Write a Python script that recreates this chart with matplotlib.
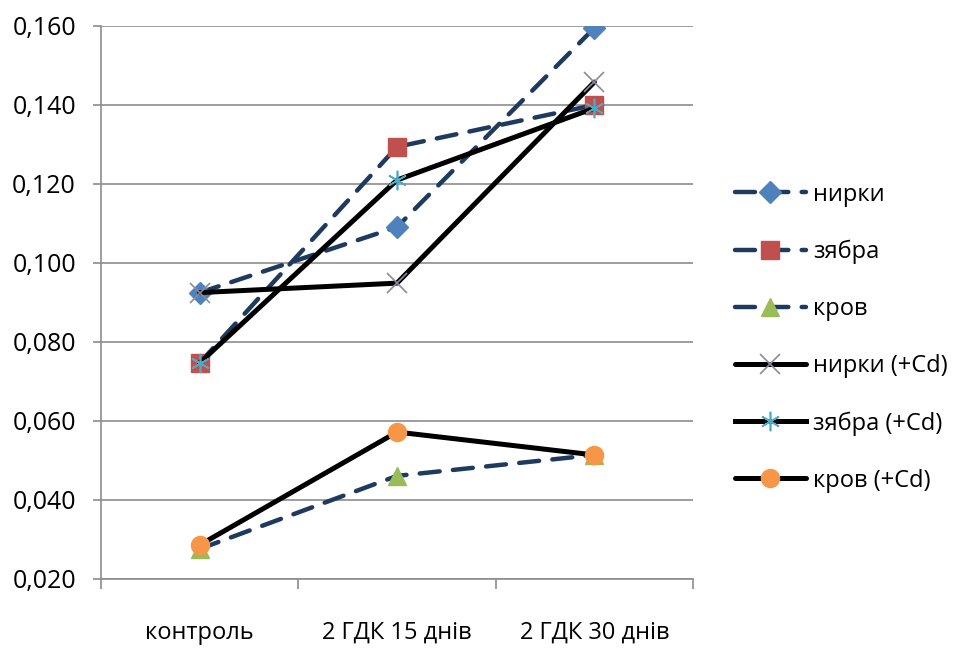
import numpy as np
import matplotlib.pyplot as plt
from matplotlib.lines import Line2D

plt.rcParams['font.family'] = ['Open Sans', 'DejaVu Sans']

# Data
categories = ["контроль", "2 ГДК 15 днів", "2 ГДК 30 днів"]
nyrky = [0.0925, 0.1091, 0.1595]
zyabra = [0.0747, 0.1294, 0.1400]
krov = [0.0276, 0.0461, 0.0514]
nyrky_cd = [0.0925, 0.0949, 0.1458]
zyabra_cd = [0.0747, 0.1210, 0.1392]
krov_cd = [0.0286, 0.0572, 0.0514]

x = np.arange(len(categories))

fig = plt.figure(figsize=(9.58, 6.48), dpi=100)
ax = fig.add_axes([0.1054, 0.1065, 0.618, 0.8534])

navy = "#1F3A5F"
dash = dict(color=navy, lw=3.2, dashes=(4.5, 3.0), dash_capstyle="round")
solid = dict(color="black", lw=3.6, solid_capstyle="round")

ax.plot(x, nyrky, marker="D", ms=11, mfc="#4F81BD", mec="#4F81BD", label="нирки", **dash)
ax.plot(x, zyabra, marker="s", ms=13, mfc="#C0504D", mec="#C0504D", label="зябра", **dash)
ax.plot(x, krov, marker="^", ms=13, mfc="#9BBB59", mec="#9BBB59", label="кров", **dash)
ax.plot(x, nyrky_cd, marker="x", ms=14, mew=1.2, mec="#8A8AA0", label="нирки (+Cd)", **solid)
ax.plot(x, zyabra_cd, label="зябра (+Cd)", **solid)
ax.plot(x, zyabra_cd, ls="none", marker=(6, 2, 0), ms=14, mew=1.2, mec="#4BACC6")
ax.plot(x, krov_cd, marker="o", ms=13, mfc="#F79646", mec="#F79646", label="кров (+Cd)", **solid)

yticks = np.arange(0.020, 0.1601, 0.020)
ax.set_xlim(-0.5, 2.5)
ax.set_ylim(0.020, 0.160)
ax.set_yticks(yticks)
ax.set_yticklabels([f"{v:.3f}".replace(".", ",") for v in yticks])
ax.yaxis.grid(True, color="#8C8C8C", lw=1.2)
ax.set_axisbelow(True)

ax.set_xticks(x)
ax.set_xticklabels(categories)
ax.set_xticks([-0.5, 0.5, 1.5, 2.5], minor=True)
ax.tick_params(axis="x", which="major", length=0, pad=30, labelsize=17)
ax.tick_params(axis="x", which="minor", length=7, color="#8C8C8C", width=1.2)
ax.tick_params(axis="y", length=6, color="#8C8C8C", width=1.2, labelsize=18, pad=12)

for s in ["top", "right"]:
    ax.spines[s].set_visible(False)
for s in ["left", "bottom"]:
    ax.spines[s].set_color("#8C8C8C")
    ax.spines[s].set_linewidth(1.2)

handles, labels = ax.get_legend_handles_labels()
# legend handle of зябра (+Cd) with the asterisk marker
handles[4] = Line2D([], [], color="black", lw=3.6, marker=(6, 2, 0), ms=14, mew=1.2, mec="#4BACC6")
fig.legend(handles, labels, loc="center left", bbox_to_anchor=(0.745, 0.479),
           frameon=False, fontsize=17, labelspacing=1.4, handlelength=3.0,
           handletextpad=0.3)

fig.savefig("out.png", dpi=100)
